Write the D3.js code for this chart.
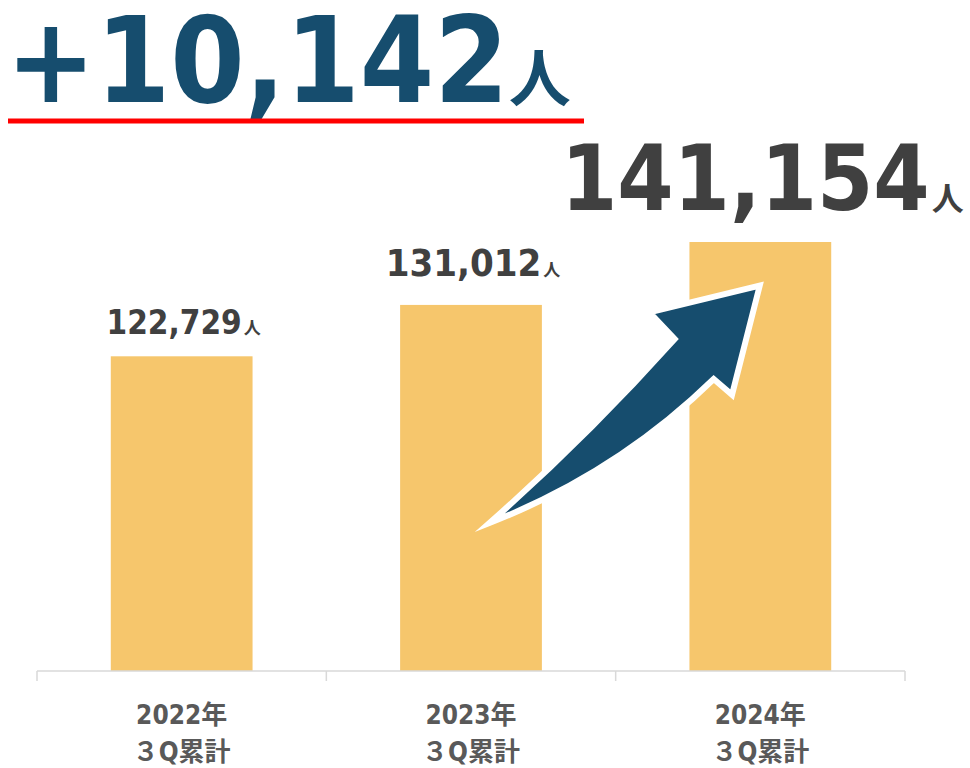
<!DOCTYPE html>
<html>
<head>
<meta charset="utf-8">
<script src="https://cdn.jsdelivr.net/npm/d3@7"></script>
<style>
  body { margin: 0; background: #fff; }
  svg { display: block; }
  text { font-family: "DejaVu Sans Condensed", "Noto Sans CJK JP", sans-serif; font-weight: bold; }
</style>
</head>
<body>
<svg id="chart" width="970" height="768"></svg>
<script>
// data
const categories = ['2022年', '2023年', '2024年'];
const subLabels = ['３Q累計', '３Q累計', '３Q累計'];
const values = [122729, 131012, 141154];
const increase = 10142;

// label styles per bar (size of number, size of 人, gap above bar)
const labelSizes = [33, 38, 90];
const unitSizes = [17, 17, 32];
const labelGaps = [22, 29, 32];

const width = 970, height = 768;
const baseline = 671;
const blue = '#164d6e';

const svg = d3.select('#chart');

const x = d3.scaleBand()
  .domain(categories)
  .range([37, 905])
  .paddingInner(0.51)
  .paddingOuter(0.255);

// bars are not drawn from zero in the original
const y = d3.scaleLinear()
  .domain([72000, 141154])
  .range([baseline, 242]);

const fmt = d3.format(',');

// bars
svg.selectAll('rect.bar')
  .data(values)
  .enter().append('rect')
  .attr('class', 'bar')
  .attr('x', (d, i) => x(categories[i]))
  .attr('y', d => y(d))
  .attr('width', x.bandwidth())
  .attr('height', d => baseline - y(d))
  .attr('fill', '#f6c66c');

// axis line + ticks at band boundaries
const bounds = categories.map(c => x(c) - x.step() * x.paddingInner() / 2);
bounds.push(x(categories[categories.length - 1]) + x.bandwidth() + x.step() * x.paddingInner() / 2);

svg.append('line')
  .attr('x1', bounds[0]).attr('x2', bounds[bounds.length - 1])
  .attr('y1', baseline).attr('y2', baseline)
  .attr('stroke', '#d9d9d9').attr('stroke-width', 1.5);

svg.selectAll('line.tick')
  .data(bounds)
  .enter().append('line')
  .attr('class', 'tick')
  .attr('x1', d => d).attr('x2', d => d)
  .attr('y1', baseline).attr('y2', baseline + 10)
  .attr('stroke', '#d9d9d9').attr('stroke-width', 1.5);

// category labels
const cat = svg.selectAll('text.cat')
  .data(categories)
  .enter().append('text')
  .attr('class', 'cat')
  .attr('text-anchor', 'middle')
  .attr('fill', '#595959')
  .style('font-size', '26px');
cat.append('tspan')
  .attr('x', d => x(d) + x.bandwidth() / 2)
  .attr('y', 724)
  .text(d => d);
cat.append('tspan')
  .attr('x', d => x(d) + x.bandwidth() / 2)
  .attr('y', 761)
  .text((d, i) => subLabels[i]);

// value labels
const lab = svg.selectAll('text.val')
  .data(values)
  .enter().append('text')
  .attr('class', 'val')
  .attr('text-anchor', 'middle')
  .attr('x', (d, i) => x(categories[i]) + x.bandwidth() / 2 + 2)
  .attr('y', (d, i) => y(d) - labelGaps[i])
  .attr('fill', '#404040');
lab.append('tspan')
  .style('font-size', (d, i) => labelSizes[i] + 'px')
  .text(d => fmt(d));
lab.append('tspan')
  .style('font-size', (d, i) => unitSizes[i] + 'px')
  .attr('dx', 2)
  .text('人');

// headline increase
const head = svg.append('text')
  .attr('x', 6)
  .attr('y', 102)
  .attr('fill', blue);
head.append('tspan').style('font-size', '119px').text('+' + fmt(increase));
head.append('tspan').style('font-size', '62px').attr('dx', 0).text('人');

svg.append('line')
  .attr('x1', 8).attr('x2', 584)
  .attr('y1', 121).attr('y2', 121)
  .attr('stroke', '#ff0000').attr('stroke-width', 5);

// arrow from 2023 bar up to 2024 bar
const tailX = x(categories[1]) + x.bandwidth() * 0.63;
const tailY = baseline - 148;
const arrow = d3.path();
arrow.moveTo(0, 0);
arrow.quadraticCurveTo(95.8, -84.3, 185.3, -184);
arrow.lineTo(160, -210.6);
arrow.lineTo(270.3, -237.3);
arrow.lineTo(242.6, -128.3);
arrow.lineTo(224.3, -144);
arrow.quadraticCurveTo(127.7, -49.8, 0, 0);
arrow.closePath();

svg.append('path')
  .attr('transform', `translate(${tailX},${tailY})`)
  .attr('d', arrow.toString())
  .attr('fill', blue)
  .attr('stroke', '#fff')
  .attr('stroke-width', 6)
  .attr('stroke-linejoin', 'miter')
  .attr('stroke-miterlimit', 10);
</script>
</body>
</html>
